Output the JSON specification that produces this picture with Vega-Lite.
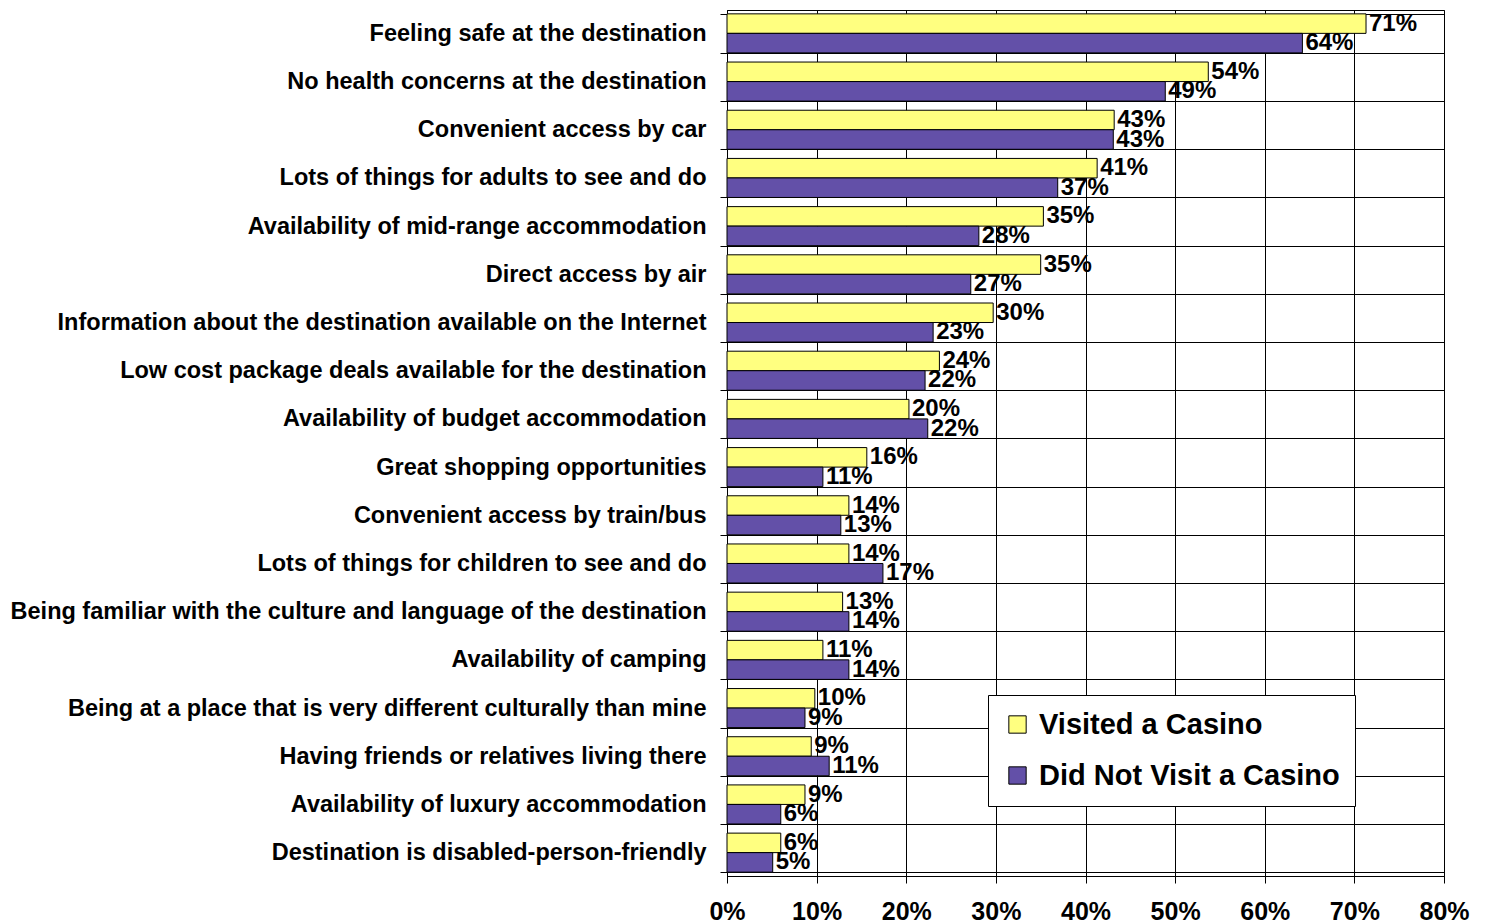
{
  "$schema": "https://vega.github.io/schema/vega-lite/v6.json",
  "autosize": "none",
  "width": 717,
  "height": 866,
  "padding": {"left": 727, "top": 10, "right": 42, "bottom": 48},
  "background": "white",
  "config": {
    "font": "Liberation Sans",
    "view": {"stroke": "black", "strokeWidth": 1}
  },
  "data": {
    "values": [
      {"factor": "Feeling safe at the destination", "group": "Visited a Casino", "share": 0.713},
      {"factor": "Feeling safe at the destination", "group": "Did Not Visit a Casino", "share": 0.642},
      {"factor": "No health concerns at the destination", "group": "Visited a Casino", "share": 0.537},
      {"factor": "No health concerns at the destination", "group": "Did Not Visit a Casino", "share": 0.489},
      {"factor": "Convenient access by car", "group": "Visited a Casino", "share": 0.432},
      {"factor": "Convenient access by car", "group": "Did Not Visit a Casino", "share": 0.431},
      {"factor": "Lots of things for adults to see and do", "group": "Visited a Casino", "share": 0.413},
      {"factor": "Lots of things for adults to see and do", "group": "Did Not Visit a Casino", "share": 0.369},
      {"factor": "Availability of mid-range accommodation", "group": "Visited a Casino", "share": 0.353},
      {"factor": "Availability of mid-range accommodation", "group": "Did Not Visit a Casino", "share": 0.281},
      {"factor": "Direct access by air", "group": "Visited a Casino", "share": 0.35},
      {"factor": "Direct access by air", "group": "Did Not Visit a Casino", "share": 0.272},
      {"factor": "Information about the destination available on the Internet", "group": "Visited a Casino", "share": 0.297},
      {"factor": "Information about the destination available on the Internet", "group": "Did Not Visit a Casino", "share": 0.23},
      {"factor": "Low cost package deals available for the destination", "group": "Visited a Casino", "share": 0.237},
      {"factor": "Low cost package deals available for the destination", "group": "Did Not Visit a Casino", "share": 0.221},
      {"factor": "Availability of budget accommodation", "group": "Visited a Casino", "share": 0.203},
      {"factor": "Availability of budget accommodation", "group": "Did Not Visit a Casino", "share": 0.224},
      {"factor": "Great shopping opportunities", "group": "Visited a Casino", "share": 0.156},
      {"factor": "Great shopping opportunities", "group": "Did Not Visit a Casino", "share": 0.107},
      {"factor": "Convenient access by train/bus", "group": "Visited a Casino", "share": 0.136},
      {"factor": "Convenient access by train/bus", "group": "Did Not Visit a Casino", "share": 0.127},
      {"factor": "Lots of things for children to see and do", "group": "Visited a Casino", "share": 0.136},
      {"factor": "Lots of things for children to see and do", "group": "Did Not Visit a Casino", "share": 0.174},
      {"factor": "Being familiar with the culture and language of the destination", "group": "Visited a Casino", "share": 0.129},
      {"factor": "Being familiar with the culture and language of the destination", "group": "Did Not Visit a Casino", "share": 0.136},
      {"factor": "Availability of camping", "group": "Visited a Casino", "share": 0.107},
      {"factor": "Availability of camping", "group": "Did Not Visit a Casino", "share": 0.136},
      {"factor": "Being at a place that is very different culturally than mine", "group": "Visited a Casino", "share": 0.098},
      {"factor": "Being at a place that is very different culturally than mine", "group": "Did Not Visit a Casino", "share": 0.087},
      {"factor": "Having friends or relatives living there", "group": "Visited a Casino", "share": 0.094},
      {"factor": "Having friends or relatives living there", "group": "Did Not Visit a Casino", "share": 0.114},
      {"factor": "Availability of luxury accommodation", "group": "Visited a Casino", "share": 0.087},
      {"factor": "Availability of luxury accommodation", "group": "Did Not Visit a Casino", "share": 0.06},
      {"factor": "Destination is disabled-person-friendly", "group": "Visited a Casino", "share": 0.06},
      {"factor": "Destination is disabled-person-friendly", "group": "Did Not Visit a Casino", "share": 0.051}
    ]
  },
  "encoding": {
    "y": {
      "field": "factor",
      "type": "nominal",
      "sort": null,
      "title": null,
      "scale": {"paddingInner": 0.19, "paddingOuter": 0.08},
      "axis": {
        "tickBand": "extent",
        "grid": true,
        "gridColor": "black",
        "gridOpacity": 1,
        "domainColor": "black",
        "tickColor": "black",
        "tickSize": 7,
        "labelPadding": 14,
        "labelLimit": 0,
        "labelFont": "Liberation Sans",
        "labelFontWeight": "bold",
        "labelFontSize": 23.5,
        "labelColor": "black"
      }
    },
    "yOffset": {
      "field": "group",
      "type": "nominal",
      "sort": ["Visited a Casino", "Did Not Visit a Casino"]
    },
    "x": {
      "field": "share",
      "type": "quantitative",
      "title": null,
      "scale": {"domain": [0, 0.8], "nice": false},
      "axis": {
        "values": [0, 0.1, 0.2, 0.3, 0.4, 0.5, 0.6, 0.7, 0.8],
        "format": ".0%",
        "grid": true,
        "gridColor": "black",
        "gridOpacity": 1,
        "domainColor": "black",
        "tickColor": "black",
        "tickSize": 7,
        "labelPadding": 16,
        "labelFlush": false,
        "labelFont": "Liberation Sans",
        "labelFontWeight": "bold",
        "labelFontSize": 25,
        "labelColor": "black"
      }
    }
  },
  "layer": [
    {
      "mark": {"type": "bar", "stroke": "black", "strokeWidth": 1, "cornerRadius": 0},
      "encoding": {
        "color": {
          "field": "group",
          "type": "nominal",
          "scale": {
            "domain": ["Visited a Casino", "Did Not Visit a Casino"],
            "range": ["#FFFF80", "#6350A8"]
          },
          "legend": {
            "title": null,
            "orient": "none",
            "legendX": 261,
            "legendY": 685,
            "fillColor": "white",
            "strokeColor": "black",
            "padding": 15,
            "symbolType": "square",
            "symbolSize": 300,
            "symbolStrokeColor": "black",
            "symbolStrokeWidth": 1,
            "symbolOpacity": 1,
            "labelFont": "Liberation Sans",
            "labelFontWeight": "bold",
            "labelFontSize": 29,
            "labelColor": "black",
            "labelOffset": 7,
            "rowPadding": 21,
            "labelLimit": 0
          }
        }
      }
    },
    {
      "mark": {
        "type": "text",
        "align": "left",
        "baseline": "middle",
        "dx": 3,
        "font": "Liberation Sans",
        "fontWeight": "bold",
        "fontSize": 24,
        "color": "black"
      },
      "encoding": {
        "text": {"field": "share", "type": "quantitative", "format": ".0%"}
      }
    }
  ]
}
